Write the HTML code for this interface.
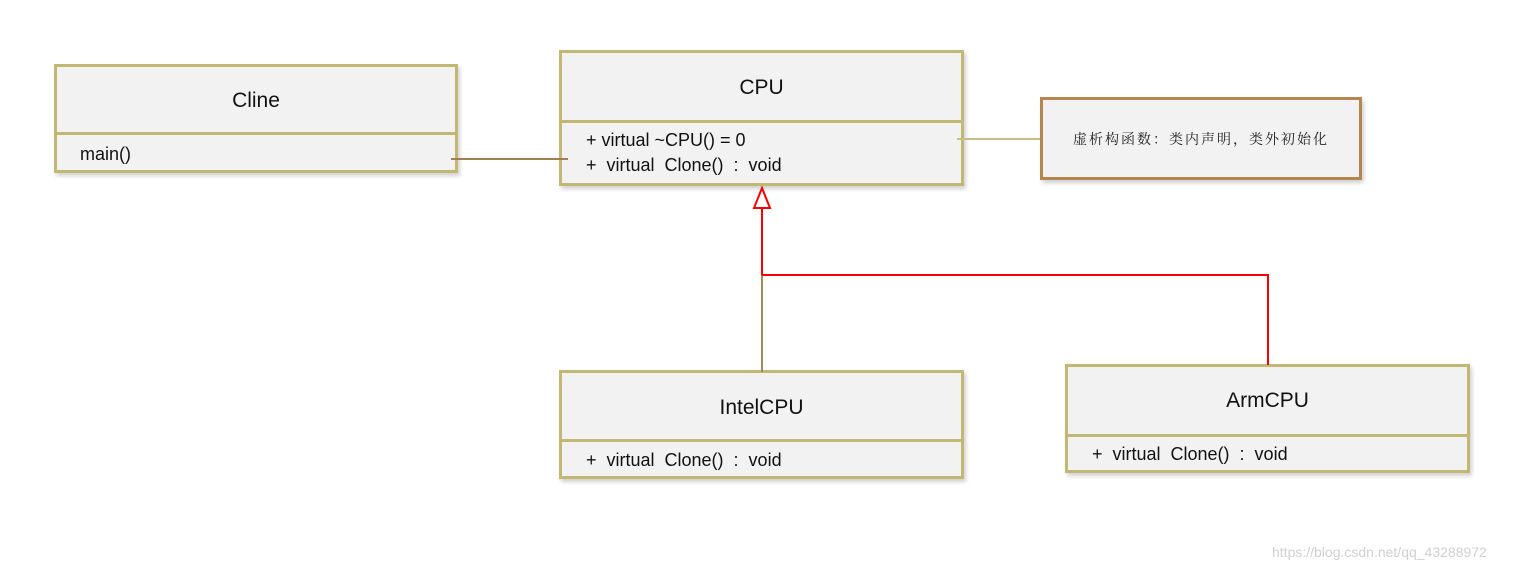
<!DOCTYPE html>
<html><head><meta charset="utf-8"><style>
body{margin:0;width:1525px;height:571px;background:#fff;position:relative;overflow:hidden;font-family:"Liberation Sans","Noto Sans CJK SC",sans-serif}
.b{position:absolute;background:#f2f2f2;border:3px solid #c2b872;box-sizing:border-box;box-shadow:2px 3px 4px rgba(0,0,0,.18)}
.t{position:absolute;left:0;right:0;text-align:center;font-size:21px;color:#111}
.d{position:absolute;left:0;right:0;height:0;border-top:3px solid #c2b872}
.m{position:absolute;font-size:18px;color:#111;white-space:pre}
</style></head><body>
<div class="b" style="left:54px;top:64px;width:404px;height:109px">
 <div class="t" style="top:22px">Cline</div>
 <div class="d" style="top:65px"></div>
 <div class="m" style="left:23px;top:77px">main()</div>
</div>
<div class="b" style="left:559px;top:50px;width:405px;height:136px">
 <div class="t" style="top:23px">CPU</div>
 <div class="d" style="top:67px"></div>
 <div class="m" style="left:24px;top:77px">+ virtual ~CPU() = 0</div>
 <div class="m" style="left:24px;top:102px">+  virtual  Clone()  :  void</div>
</div>
<div class="b" style="left:1040px;top:97px;width:322px;height:83px;border-color:#b5864f">
 <div style="position:absolute;left:0;right:0;top:29px;text-align:center;font-size:14px;letter-spacing:2px;font-family:'Noto Serif CJK SC',serif;color:#222">虚析构函数：类内声明，类外初始化</div>
</div>
<div class="b" style="left:559px;top:370px;width:405px;height:109px">
 <div class="t" style="top:23px">IntelCPU</div>
 <div class="d" style="top:66px"></div>
 <div class="m" style="left:24px;top:77px">+  virtual  Clone()  :  void</div>
</div>
<div class="b" style="left:1065px;top:364px;width:405px;height:109px">
 <div class="t" style="top:22px">ArmCPU</div>
 <div class="d" style="top:67px"></div>
 <div class="m" style="left:24px;top:77px">+  virtual  Clone()  :  void</div>
</div>
<svg style="position:absolute;left:0;top:0" width="1525" height="571">
 <line x1="451" y1="159" x2="568" y2="159" stroke="#a08050" stroke-width="2"/>
 <line x1="957" y1="139" x2="1040" y2="139" stroke="#c8bd88" stroke-width="2"/>
 <line x1="762" y1="372" x2="762" y2="275" stroke="#9c8f5a" stroke-width="2"/>
 <polyline points="762,275 762,208" fill="none" stroke="#f00" stroke-width="2"/>
 <polyline points="762,275 1268,275 1268,365" fill="none" stroke="#f00" stroke-width="2"/>
 <polygon points="762,188 754,208 770,208" fill="#fff" stroke="#f00" stroke-width="2"/>
</svg>
<div style="position:absolute;left:1272px;top:544px;font-size:14px;color:#d0d0d0">https://blog.csdn.net/qq_43288972</div>
</body></html>
